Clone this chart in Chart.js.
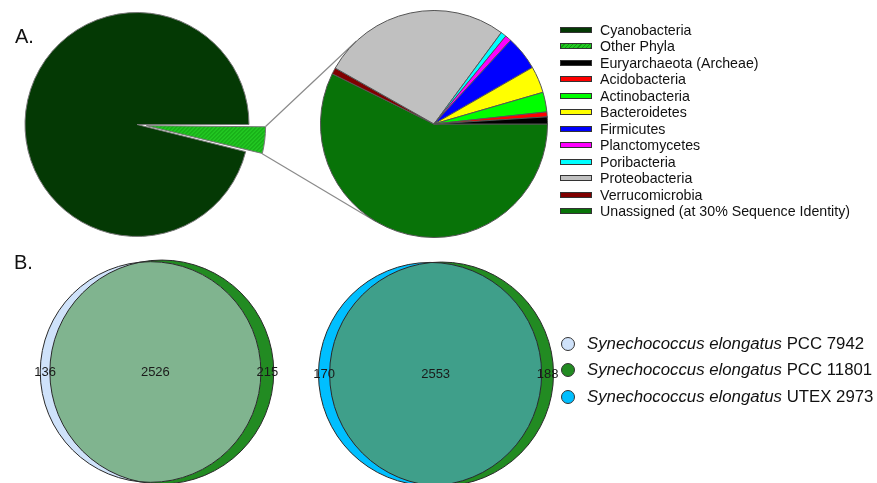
<!DOCTYPE html>
<html>
<head>
<meta charset="utf-8">
<script src="https://cdn.jsdelivr.net/npm/chart.js@4.4.1/dist/chart.umd.min.js"></script>
<style>
  body { margin: 0; width: 877px; height: 483px; overflow: hidden; background: #fff; position: relative;
         font-family: "Liberation Sans", Arial, sans-serif; color: #111; }
  canvas { position: absolute; }
  .panel { position: absolute; font-size: 20px; line-height: 20px; }
  #legA { position: absolute; left: 560px; top: 21.75px; font-size: 14.2px; }
  #legA .row { height: 16.5px; line-height: 16.5px; white-space: nowrap; position: relative; }
  #legA .sw { position: absolute; left: 0; top: 5px; width: 30px; height: 4px; border: 1px solid #333; }
  #legA .tx { position: absolute; left: 40px; top: 0; }
  #legB { position: absolute; left: 561px; top: 330.8px; font-size: 16.8px; }
  #legB .row { height: 26.4px; line-height: 26.4px; white-space: nowrap; position: relative; }
  #legB .dot { position: absolute; left: 0; top: 6.2px; width: 12px; height: 12px; border: 1px solid #333; border-radius: 50%; }
  #legB .tx { position: absolute; left: 26px; top: 0; }
</style>
</head>
<body>
<canvas id="lines" width="877" height="483" style="left:0;top:0;z-index:0"></canvas>
<canvas id="bigPie" width="290" height="263" style="left:-8px;top:-7px;z-index:1"></canvas>
<canvas id="smallPie" width="228" height="228" style="left:320px;top:10px;z-index:1"></canvas>
<canvas id="venn1" width="260" height="260" style="left:27px;top:242px;z-index:1"></canvas>
<canvas id="venn2" width="260" height="260" style="left:306px;top:244px;z-index:1"></canvas>
<div class="panel" style="left:15px;top:26px">A.</div>
<div class="panel" style="left:14px;top:252px">B.</div>
<div id="legA"></div>
<div id="legB"></div>

<script>
// panel A: all genes, then the "Other Phyla" slice split up (percent)
var bigLabels = ['Cyanobacteria', 'Other Phyla'];
var bigValues = [96.1, 3.9];
var bigColors = ['#043904', 'hatch'];

var phylaLabels = ['Euryarchaeota (Archeae)', 'Acidobacteria', 'Actinobacteria', 'Bacteroidetes', 'Firmicutes',
                   'Planctomycetes', 'Poribacteria', 'Proteobacteria', 'Verrucomicrobia',
                   'Unassigned (at 30% Sequence Identity)'];
var phylaValues = [1.0, 0.7, 2.8, 3.8, 4.9, 0.9, 0.8, 26.9, 0.9, 57.3];
var phylaColors = ['#000000', '#ff0000', '#00ff00', '#ffff00', '#0000ff', '#ff00ff', '#00ffff', '#c0c0c0',
                   '#800000', '#087308'];

// panel B: shared genes between strains
var strainGenus = 'Synechococcus elongatus';
var strainNames = ['PCC 7942', 'PCC 11801', 'UTEX 2973'];
var strainColors = ['#cfe2fa', '#228b22', '#00bfff'];
var venn1Counts = [136, 2526, 215];   // PCC 7942 only, shared, PCC 11801 only
var venn2Counts = [170, 2553, 188];   // UTEX 2973 only, shared, PCC 11801 only
var overlapColors = ['#80b48f', '#3f9f8a'];

function hatchPattern(canvas) {
  var c = document.createElement('canvas');
  c.width = 4; c.height = 4;
  var g = c.getContext('2d');
  g.fillStyle = '#22c722';
  g.fillRect(0, 0, 4, 4);
  g.fillStyle = '#0f9a0f';
  for (var i = 0; i < 4; i++) g.fillRect(i, 3 - i, 1, 1);
  return canvas.getContext('2d').createPattern(c, 'repeat');
}

var common = {
  responsive: false,
  animation: false,
  events: [],
  plugins: { legend: { display: false }, tooltip: { enabled: false } }
};

// big pie
var bigCanvas = document.getElementById('bigPie');
var hatch = hatchPattern(bigCanvas);
var bigTotal = bigValues[0] + bigValues[1];
var bigChart = new Chart(bigCanvas, {
  type: 'pie',
  data: {
    labels: bigLabels,
    datasets: [{
      data: bigValues,
      backgroundColor: bigColors.map(function(c) { return c == 'hatch' ? hatch : c; }),
      borderColor: '#777',
      borderWidth: 1,
      offset: [0, 38],
      hoverOffset: 0
    }]
  },
  options: Object.assign({ rotation: 90 + 360 * bigValues[1] / bigTotal }, common)
});

// small pie, drawn counter-clockwise from 3 o'clock
var smallCanvas = document.getElementById('smallPie');
var smallChart = new Chart(smallCanvas, {
  type: 'pie',
  data: {
    labels: phylaLabels.slice().reverse(),
    datasets: [{
      data: phylaValues.slice().reverse(),
      backgroundColor: phylaColors.slice().reverse(),
      borderColor: '#555',
      borderWidth: 1,
      hoverOffset: 0
    }]
  },
  options: Object.assign({ rotation: 90 }, common)
});

// connector lines: from the exploded slice corners, tangent to the small pie
function drawConnectors() {
  var arc = bigChart.getDatasetMeta(0).data[1];
  var circ = arc.endAngle - arc.startAngle;
  var off = arc.options.offset / 4;
  var shift = off + off * (1 - Math.sin(Math.min(Math.PI, circ)));
  var mid = (arc.startAngle + arc.endAngle) / 2;
  var cx = bigCanvas.offsetLeft + arc.x + Math.cos(mid) * shift;
  var cy = bigCanvas.offsetTop + arc.y + Math.sin(mid) * shift;
  var R = arc.outerRadius;
  var s = smallChart.getDatasetMeta(0).data[0];
  var sx = smallCanvas.offsetLeft + s.x, sy = smallCanvas.offsetTop + s.y, r = s.outerRadius;

  var g = document.getElementById('lines').getContext('2d');
  g.strokeStyle = '#8a8a8a';
  g.lineWidth = 1.2;
  [[arc.startAngle, 1], [arc.endAngle, -1]].forEach(function(p) {
    var px = cx + Math.cos(p[0]) * R, py = cy + Math.sin(p[0]) * R;
    var D = Math.hypot(px - sx, py - sy);
    var phi = Math.atan2(py - sy, px - sx);
    var t = phi + p[1] * Math.acos(r / D);
    g.beginPath();
    g.moveTo(px, py);
    g.lineTo(sx + Math.cos(t) * r, sy + Math.sin(t) * r);
    g.stroke();
  });
}
drawConnectors();

// venn diagrams: circle areas proportional to gene counts
function lensArea(r1, r2, d) {
  if (d >= r1 + r2) return 0;
  if (d <= Math.abs(r1 - r2)) return Math.PI * Math.pow(Math.min(r1, r2), 2);
  var a = r1 * r1 * Math.acos((d * d + r1 * r1 - r2 * r2) / (2 * d * r1));
  var b = r2 * r2 * Math.acos((d * d + r2 * r2 - r1 * r1) / (2 * d * r2));
  var c = 0.5 * Math.sqrt((-d + r1 + r2) * (d + r1 - r2) * (d - r1 + r2) * (d + r1 + r2));
  return a + b - c;
}
function solveDistance(r1, r2, target) {
  var lo = Math.abs(r1 - r2), hi = r1 + r2;
  for (var i = 0; i < 60; i++) {
    var m = (lo + hi) / 2;
    if (lensArea(r1, r2, m) > target) lo = m; else hi = m;
  }
  return (lo + hi) / 2;
}
// circle radius in pixels, taken from the x scale
function pxRadius(ctx) {
  var sc = ctx.chart.scales.x;
  if (!sc || !ctx.raw) return 0;
  var r = sc.getPixelForValue(ctx.raw.x + ctx.raw.ru) - sc.getPixelForValue(ctx.raw.x);
  return isFinite(r) ? r : 0;
}

var vennPlugin = {
  id: 'venn',
  afterDatasetsDraw: function(chart, args, opts) {
    var g = chart.ctx;
    var a = chart.getDatasetMeta(0).data[0], b = chart.getDatasetMeta(1).data[0];
    var ra = a.options.radius, rb = b.options.radius;
    g.save();
    g.beginPath(); g.arc(b.x, b.y, rb, 0, Math.PI * 2); g.clip();
    g.beginPath(); g.arc(a.x, a.y, ra, 0, Math.PI * 2);
    g.fillStyle = opts.lensColor; g.fill();
    g.restore();
    g.save();
    g.strokeStyle = '#2a2a2a'; g.lineWidth = 1;
    g.beginPath(); g.arc(a.x, a.y, ra, 0, Math.PI * 2); g.stroke();
    g.beginPath(); g.arc(b.x, b.y, rb, 0, Math.PI * 2); g.stroke();
    g.fillStyle = '#1a1a1a';
    g.font = '13px "Liberation Sans", Arial, sans-serif';
    g.textAlign = 'center'; g.textBaseline = 'middle';
    var y = a.y;
    g.fillText(opts.counts[0], ((a.x - ra) + (b.x - rb)) / 2, y);
    g.fillText(opts.counts[1], ((b.x - rb) + (a.x + ra)) / 2, y);
    g.fillText(opts.counts[2], ((a.x + ra) + (b.x + rb)) / 2, y);
    g.restore();
  }
};

function vennChart(id, counts, colA, colB, lensColor) {
  var rA = Math.sqrt((counts[0] + counts[1]) / Math.PI);
  var rB = Math.sqrt((counts[1] + counts[2]) / Math.PI);
  var d = solveDistance(rA, rB, counts[1]);
  var xA = (rA - rB - d) / 2;
  return new Chart(document.getElementById(id), {
    type: 'scatter',
    data: {
      datasets: [
        { data: [{ x: xA, y: 0, ru: rA }], pointBackgroundColor: colA, pointBorderWidth: 0,
          pointRadius: pxRadius, pointHoverRadius: pxRadius },
        { data: [{ x: xA + d, y: 0, ru: rB }], pointBackgroundColor: colB, pointBorderWidth: 0,
          pointRadius: pxRadius, pointHoverRadius: pxRadius }
      ]
    },
    options: {
      responsive: false,
      animation: false,
      events: [],
      layout: { autoPadding: false, padding: 0 },
      scales: {
        x: { display: false, min: -34.3, max: 34.3 },
        y: { display: false, min: -34.3, max: 34.3 }
      },
      plugins: {
        legend: { display: false },
        tooltip: { enabled: false },
        venn: { counts: counts, lensColor: lensColor }
      }
    },
    plugins: [vennPlugin]
  });
}
vennChart('venn1', venn1Counts, strainColors[0], strainColors[1], overlapColors[0]);
vennChart('venn2', venn2Counts, strainColors[2], strainColors[1], overlapColors[1]);

// legends
var legA = document.getElementById('legA');
var legALabels = bigLabels.concat(phylaLabels);
var legAColors = bigColors.concat(phylaColors);
legALabels.forEach(function(lab, i) {
  var c = legAColors[i];
  var bg = c == 'hatch' ? 'repeating-linear-gradient(135deg, #22c722 0 2px, #0f9a0f 2px 3px)' : c;
  legA.innerHTML += '<div class="row"><span class="sw" style="background:' + bg + '"></span>' +
                    '<span class="tx">' + lab + '</span></div>';
});
var legB = document.getElementById('legB');
strainNames.forEach(function(name, i) {
  legB.innerHTML += '<div class="row"><span class="dot" style="background:' + strainColors[i] + '"></span>' +
                    '<span class="tx"><i>' + strainGenus + '</i> ' + name + '</span></div>';
});
</script>
</body>
</html>
